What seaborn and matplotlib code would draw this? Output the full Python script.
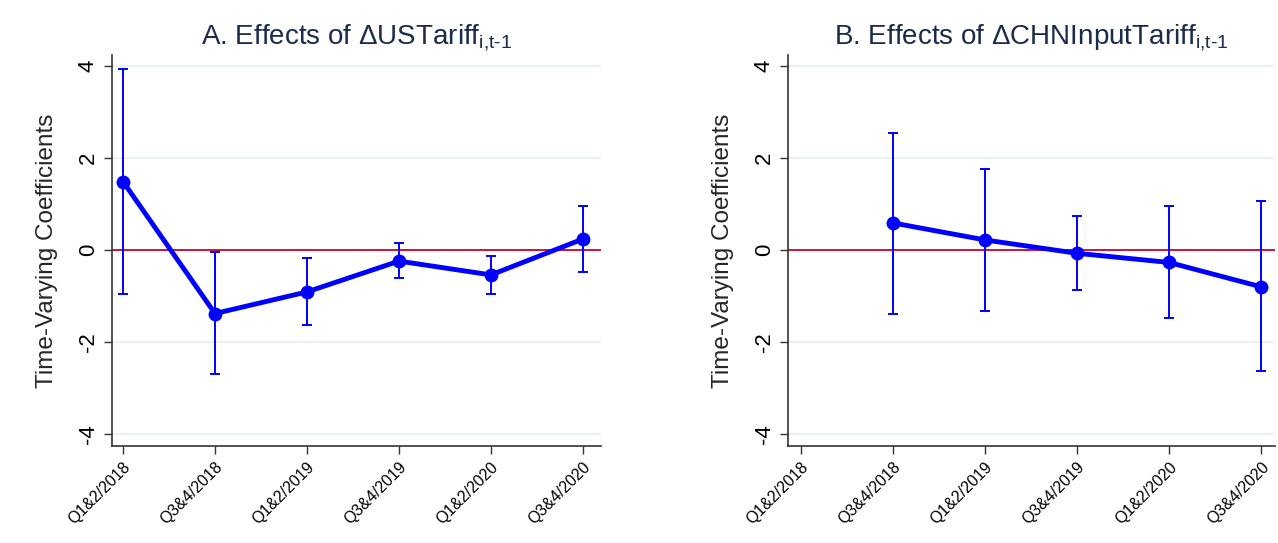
import matplotlib
matplotlib.use("Agg")
import matplotlib.pyplot as plt
import seaborn as sns
import numpy as np
import pandas as pd

periods = ["Q1&2/2018", "Q3&4/2018", "Q1&2/2019", "Q3&4/2019", "Q1&2/2020", "Q3&4/2020"]

# Panel A: effects of US tariff
a_periods = periods
a_coef = [1.49, -1.38, -0.91, -0.24, -0.54, 0.24]
a_low = [-0.96, -2.70, -1.62, -0.61, -0.96, -0.48]
a_high = [3.93, -0.05, -0.18, 0.15, -0.13, 0.96]

# Panel B: effects of China input tariff
b_periods = periods[1:]
b_coef = [0.59, 0.22, -0.07, -0.27, -0.80]
b_low = [-1.38, -1.33, -0.87, -1.47, -2.63]
b_high = [2.55, 1.76, 0.75, 0.96, 1.07]

yticks = [-4, -2, 0, 2, 4]

sns.set_theme(style="white")
plt.rcParams['font.family'] = ['Liberation Sans', 'DejaVu Sans']
plt.rcParams['mathtext.fontset'] = 'custom'
plt.rcParams['mathtext.rm'] = 'Liberation Sans'
plt.rcParams['mathtext.it'] = 'Liberation Sans'

fig = plt.figure(figsize=(12.78, 5.43), dpi=100)
axA = fig.add_axes([0.0876, 0.1786, 0.3826, 0.7201])
axB = fig.add_axes([0.6166, 0.1786, 0.3814, 0.7201])

blue = "#0000ff"
title_color = "#1a2b4c"

def draw(ax, cats, coef, low, high, title, xlim):
    pos = [periods.index(c) for c in cats]
    df = pd.DataFrame({"x": pos, "coef": coef, "low": low, "high": high})
    for y in [-4, -2, 2, 4]:
        ax.axhline(y, color="#e8f0f2", lw=1.2, zorder=0)
    ax.axhline(0, color="#d0103a", lw=1.4, zorder=1)
    ax.errorbar(df["x"], df["coef"],
                yerr=[df["coef"] - df["low"], df["high"] - df["coef"]],
                fmt="none", ecolor=blue, elinewidth=1.4, capsize=3.8, capthick=1.4, zorder=2)
    sns.lineplot(data=df, x="x", y="coef", ax=ax, color=blue, lw=3.5,
                 marker="o", markersize=10, markeredgewidth=0, zorder=3)
    ax.set_xlim(*xlim)
    ax.set_ylim(-4.26, 4.24)
    ax.set_xticks(range(len(periods)))
    ax.set_xticklabels(periods, rotation=45, ha="right", rotation_mode="anchor", fontsize=11.5)
    ax.set_yticks(yticks)
    ax.set_yticklabels([str(v) for v in yticks], rotation=90, va="center", fontsize=16)
    ax.set_xlabel("")
    ax.set_ylabel("Time-Varying Coefficients", fontsize=17.5, labelpad=14)
    ax.set_title(title, fontsize=20, color=title_color, pad=8)
    for s in ["top", "right"]:
        ax.spines[s].set_visible(False)
    for s in ["left", "bottom"]:
        ax.spines[s].set_color("#333333")
        ax.spines[s].set_linewidth(1.2)
    ax.tick_params(axis="both", which="both", direction="out", length=6, width=1,
                   color="#333333", left=True, bottom=True, labelcolor="black")
    ax.grid(False)

draw(axA, a_periods, a_coef, a_low, a_high,
     r"A. Effects of ΔUSTariff$_{\mathrm{i{,}t\text{-}1}}$", (-0.12, 5.196))
draw(axB, b_periods, b_coef, b_low, b_high,
     r"B. Effects of ΔCHNInputTariff$_{\mathrm{i{,}t\text{-}1}}$", (-0.138, 5.155))

fig.savefig("out.png", dpi=100, facecolor="white")
